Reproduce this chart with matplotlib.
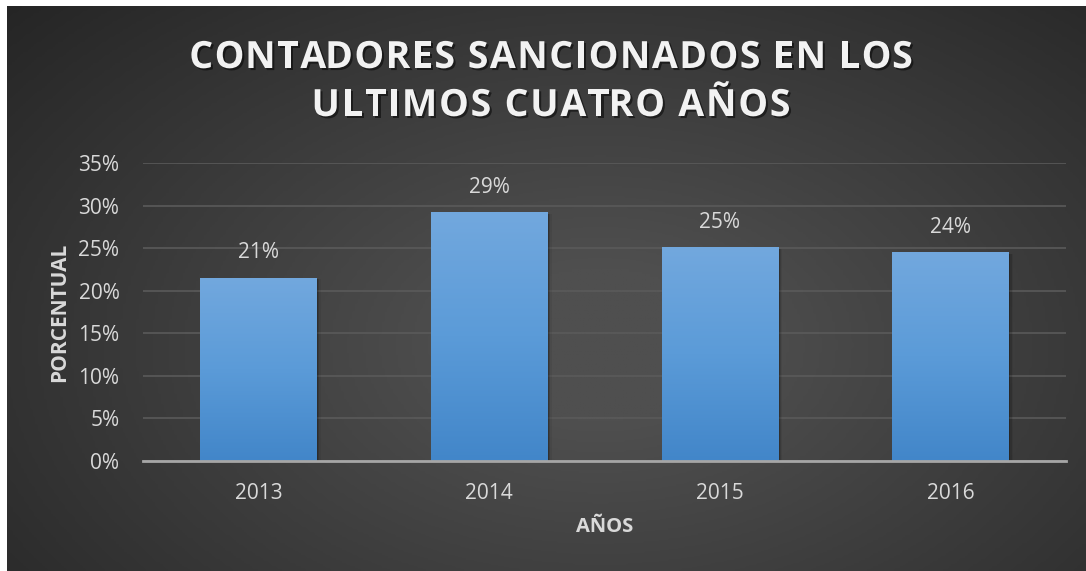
import numpy as np
import matplotlib.pyplot as plt
import matplotlib.patheffects as pe
from matplotlib.colors import LinearSegmentedColormap

years = ["2013", "2014", "2015", "2016"]
values = [21.5, 29.2, 25.1, 24.5]
labels = ["21%", "29%", "25%", "24%"]
yticks = [0, 5, 10, 15, 20, 25, 30, 35]
title_lines = ["CONTADORES SANCIONADOS EN LOS", "ULTIMOS CUATRO AÑOS"]

plt.rcParams["font.family"] = ["Open Sans", "DejaVu Sans"]

W, H = 1086, 571
fig = plt.figure(figsize=(W / 100, H / 100), dpi=100)
fig.patch.set_facecolor("white")

# dark radial background of the chart area
bg = fig.add_axes([7 / W, 0, 1 - 7 / W, 1 - 6 / H], zorder=0)
gx, gy = np.meshgrid(np.linspace(0, 1, 400), np.linspace(0, 1, 220))
d = np.sqrt(((gx - 0.55) / 0.75) ** 2 + ((gy - 0.6) / 0.9) ** 2)
shade = np.clip(1 - d, 0, 1)
bg_cmap = LinearSegmentedColormap.from_list("bg", ["#252525", "#4f4f4f"])
bg.imshow(shade, cmap=bg_cmap, aspect="auto", extent=[0, 1, 0, 1], vmin=0, vmax=0.85)
bg.set_axis_off()

ax = fig.add_axes([143 / W, 110 / H, 923 / W, 298 / H], zorder=1)
ax.patch.set_alpha(0)

x = np.arange(len(years))
bars = ax.bar(x, values, width=0.505, color="#5b9bd5", zorder=3)

bar_cmap = LinearSegmentedColormap.from_list("bar", ["#4286c9", "#5b9bd8", "#72a8de"])
grad = np.linspace(0, 1, 256).reshape(-1, 1)
for b in bars:
    bx, bw, bh = b.get_x(), b.get_width(), b.get_height()
    # soft shadow on the right
    for k, a in [(0.006, 0.18), (0.012, 0.12), (0.018, 0.06)]:
        ax.bar(bx + bw / 2 + k, bh - 0.15, width=bw, color="black", alpha=a, zorder=2)
    im = ax.imshow(grad, cmap=bar_cmap, aspect="auto", origin="lower",
                   extent=[bx, bx + bw, 0, bh], zorder=4)
    im.set_clip_path(b)

for xi, v, lab in zip(x, values, labels):
    ax.text(xi, v + 2.95, lab, ha="center", va="center", color="#d9d9d9", fontsize=15)

ax.set_xlim(-0.5, 3.5)
ax.set_ylim(0, 35)
ax.set_yticks(yticks)
ax.set_yticklabels([f"{t}%" for t in yticks])
ax.set_xticks(x)
ax.set_xticklabels(years)
ax.tick_params(colors="#d9d9d9", labelsize=15, length=0)
ax.tick_params(axis="x", pad=16)
ax.tick_params(axis="y", pad=17)
ax.grid(axis="y", color="#5a5a5a", linewidth=1.2, zorder=1)
ax.set_axisbelow(True)
for s in ["top", "right", "left"]:
    ax.spines[s].set_visible(False)
ax.spines["bottom"].set_color("#a6a6a6")
ax.spines["bottom"].set_linewidth(2)
ax.spines["bottom"].set_zorder(5)

ax.set_xlabel("AÑOS", color="#d9d9d9", fontsize=14.5, fontweight="bold", labelpad=9)
ax.set_ylabel("PORCENTUAL", color="#d9d9d9", fontsize=15, fontweight="bold", labelpad=6)

# title with a little extra letter spacing
title_fx = [pe.withSimplePatchShadow(offset=(1.5, -1.5), shadow_rgbFace="black", alpha=0.5)]
renderer = fig.canvas.get_renderer()


def prefix_width(s):
    if not s:
        return 0.0
    t = fig.text(0, 0, s + "|", fontsize=27, fontweight="bold")
    w = t.get_window_extent(renderer).width
    t.remove()
    t = fig.text(0, 0, "|", fontsize=27, fontweight="bold")
    w -= t.get_window_extent(renderer).width
    t.remove()
    return w


for line, yc, gap in [(title_lines[0], 58, 1.5), (title_lines[1], 106, 1.8)]:
    total = prefix_width(line) + gap * (len(line) - 1)
    x0 = 551 - total / 2
    for i, ch in enumerate(line):
        if ch == " ":
            continue
        xp = x0 + prefix_width(line[:i]) + gap * i
        fig.text(xp / W, 1 - yc / H, ch, ha="left", va="center", color="#f2f2f2",
                 fontsize=27, fontweight="bold", path_effects=title_fx)

fig.savefig("out.png", dpi=100)
